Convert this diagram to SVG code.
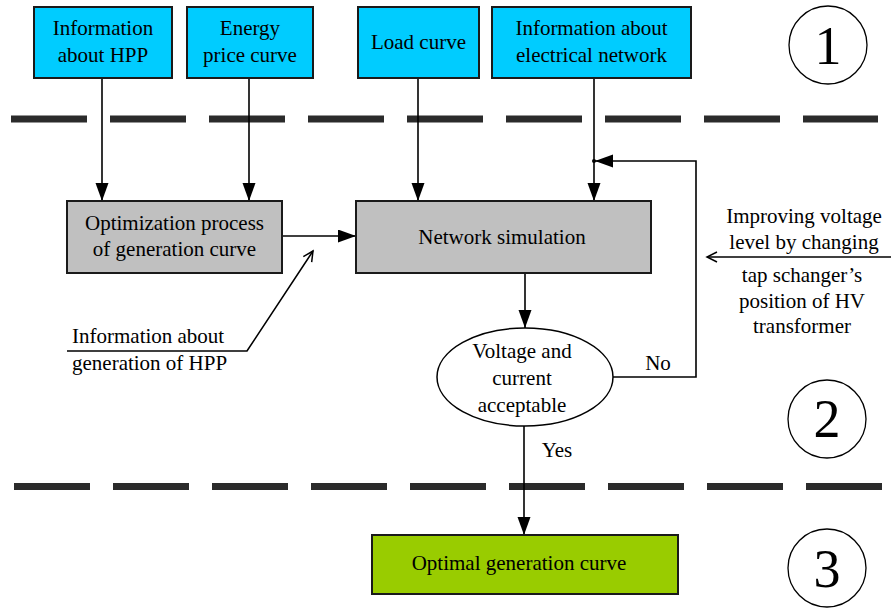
<svg xmlns="http://www.w3.org/2000/svg" width="891" height="609" viewBox="0 0 891 609">
<style>
text{font-family:'Liberation Serif',Tinos,'DejaVu Serif','Noto Serif',serif;font-size:21px;fill:#000;text-anchor:middle}
.box{stroke:#1a1a1a;stroke-width:2}
.cyan{fill:#00CCFF}
.gray{fill:#C0C0C0}
.green{fill:#99CC00}
.ln{fill:none;stroke:#000;stroke-width:1.6}
.dash{stroke:#2b2b2b;stroke-width:7;stroke-dasharray:76 23}
.circ{fill:#fff;stroke:#000;stroke-width:1.3}
.num{font-size:54px}
.left{text-anchor:start}
</style>
<defs>
<marker id="fa" markerUnits="userSpaceOnUse" markerWidth="20" markerHeight="14" refX="18" refY="6.5" orient="auto">
<path d="M0,0 L18,6.5 L0,13 Z" fill="#000"/>
</marker>
<marker id="oa" markerUnits="userSpaceOnUse" markerWidth="14" markerHeight="14" refX="11" refY="6" orient="auto">
<path d="M1,1 L11,6 L1,11" fill="none" stroke="#000" stroke-width="1.5"/>
</marker>
</defs>

<g id="separators">
<line class="dash" x1="11" y1="119" x2="878" y2="119"/>
<line class="dash" x1="14" y1="486.5" x2="882" y2="486.5"/>
</g>

<g id="connectors">
<line class="ln" x1="102" y1="78" x2="102" y2="201" marker-end="url(#fa)"/>
<line class="ln" x1="249" y1="78" x2="249" y2="201" marker-end="url(#fa)"/>
<line class="ln" x1="418" y1="78" x2="418" y2="201" marker-end="url(#fa)"/>
<line class="ln" x1="594" y1="78" x2="594" y2="201" marker-end="url(#fa)"/>
<line class="ln" x1="282" y1="236" x2="356" y2="236" marker-end="url(#fa)"/>
<polyline class="ln" points="67,351 247,351 313,251" marker-end="url(#oa)"/>
<line class="ln" x1="525" y1="273" x2="525" y2="328" marker-end="url(#fa)"/>
<polyline class="ln" points="613,377 696,377 696,161 595,161" marker-end="url(#fa)"/>
<circle cx="594" cy="161" r="2" fill="#000"/>
<line class="ln" x1="524" y1="426" x2="524" y2="535" marker-end="url(#fa)"/>
<line class="ln" x1="891" y1="257" x2="707" y2="257" marker-end="url(#oa)"/>
<text x="658" y="370">No</text>
<text x="557" y="457">Yes</text>
</g>

<g id="info-hpp">
<rect class="box cyan" x="34" y="7" width="138" height="71"/>
<text x="103" y="35">Information</text>
<text x="103" y="62">about HPP</text>
</g>
<g id="energy-price">
<rect class="box cyan" x="187" y="7" width="126" height="71"/>
<text x="250" y="35">Energy</text>
<text x="250" y="62">price curve</text>
</g>
<g id="load-curve">
<rect class="box cyan" x="358" y="7" width="121" height="71"/>
<text x="418.5" y="49">Load curve</text>
</g>
<g id="info-network">
<rect class="box cyan" x="492" y="7" width="199" height="71"/>
<text x="591.5" y="35">Information about</text>
<text x="591.5" y="62">electrical network</text>
</g>

<g id="optimization">
<rect class="box gray" x="67" y="201" width="215" height="72"/>
<text x="174.5" y="230">Optimization process</text>
<text x="174.5" y="256">of generation curve</text>
</g>
<g id="network-sim">
<rect class="box gray" x="356" y="201" width="295" height="72"/>
<text x="502" y="244">Network simulation</text>
</g>

<g id="info-generation">
<text class="left" x="72" y="343">Information about</text>
<text class="left" x="72" y="370">generation of HPP</text>
</g>

<g id="decision">
<ellipse cx="525" cy="377" rx="88" ry="49" fill="#fff" stroke="#000" stroke-width="1.5"/>
<text x="522" y="358">Voltage and</text>
<text x="522" y="385">current</text>
<text x="522" y="412">acceptable</text>
</g>

<g id="improving">
<text x="804" y="223">Improving voltage</text>
<text x="804" y="249">level by changing</text>
<text x="802" y="282">tap schanger’s</text>
<text x="802" y="308">position of HV</text>
<text x="802" y="333">transformer</text>
</g>

<g id="optimal">
<rect class="box green" x="372" y="535" width="306" height="59"/>
<text x="519" y="570">Optimal generation curve</text>
</g>

<g id="stage1">
<circle class="circ" cx="828" cy="45" r="39"/>
<text class="num" x="828" y="64">1</text>
</g>
<g id="stage2">
<circle class="circ" cx="827" cy="419" r="39"/>
<text class="num" x="827" y="437">2</text>
</g>
<g id="stage3">
<circle class="circ" cx="827" cy="568" r="39"/>
<text class="num" x="827" y="587">3</text>
</g>
</svg>
